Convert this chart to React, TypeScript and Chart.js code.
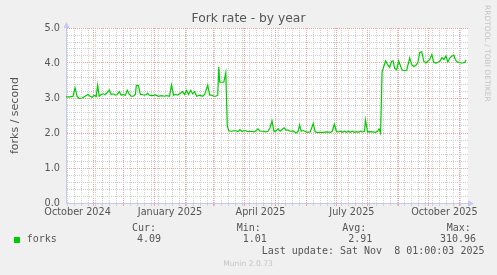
import { useEffect, useRef } from 'react';
import { Chart, registerables } from 'chart.js';

Chart.register(...registerables);

const chartTitle = 'Fork rate - by year';
const yAxisTitle = 'forks / second';
const seriesName = 'forks';
const sideText = 'RRDTOOL / TOBI OETIKER';
const statsHeaders = ['Cur:', 'Min:', 'Avg:', 'Max:'];
const statsValues = ['4.09', '1.01', '2.91', '310.96'];
const lastUpdate = 'Last update: Sat Nov  8 01:00:03 2025';
const footerText = 'Munin 2.0.73';

// days since 2024-10-05 (left edge of the plot)
const dayOffsets = [
  0, 4, 7, 9, 11, 13, 16, 19, 22, 24, 26, 28, 30, 31.5, 33, 35, 37, 39, 41, 43, 45, 47, 49, 51, 53, 55, 57, 59, 61, 63,
  65, 67, 69, 70, 72, 74, 76, 78, 80, 81, 83, 86, 89, 92, 95, 98, 100, 103, 105, 107, 109, 111, 113, 116, 118, 120, 122,
  124, 126, 128, 130, 133, 136, 138, 141, 143, 145, 147, 149, 151, 152, 153, 157, 159, 160.5, 162, 165, 168, 171, 173,
  175, 178, 181, 184, 187, 189, 191, 193, 196, 199, 201, 203, 205, 207, 209, 211, 213, 215, 217, 219, 221, 223, 226, 229,
  231, 232.5, 234, 236, 238, 240, 243, 246, 248, 250, 253, 256, 259, 263, 265, 267, 269, 271, 273, 275, 277, 279, 281,
  283, 285, 287, 289, 291, 293, 295, 297, 298, 300, 302, 305, 308, 310, 311.5, 313, 314.5, 318, 320, 322, 324, 325.5,
  327, 329, 331, 333, 334.5, 337, 339, 342, 344, 346, 348, 350, 352, 354, 356, 358, 360, 362, 364, 366, 368, 370, 372,
  374, 376, 378, 380, 382, 384, 386, 387, 389, 391, 393, 395, 397, 398,
];
const forksPerSecond = [
  3.03, 3.03, 3.05, 3.29, 3.05, 2.98, 3.0, 3.05, 3.1, 3.05, 3.02, 3.08, 3.04, 3.37, 3.05, 3.1, 3.12, 3.1, 3.15, 3.23,
  3.1, 3.12, 3.08, 3.1, 3.18, 3.08, 3.1, 3.08, 3.22, 3.1, 3.05, 3.05, 3.1, 3.36, 3.36, 3.1, 3.1, 3.08, 3.1, 3.14, 3.08,
  3.07, 3.09, 3.05, 3.07, 3.05, 3.07, 3.05, 3.37, 3.08, 3.1, 3.08, 3.12, 3.18, 3.1, 3.22, 3.1, 3.22, 3.12, 3.18, 3.05,
  3.08, 3.05, 3.1, 3.37, 3.08, 3.08, 3.05, 3.05, 3.08, 3.89, 3.45, 3.45, 3.72, 2.2, 2.06, 2.05, 2.07, 2.04, 2.1, 2.05,
  2.07, 2.04, 2.05, 2.03, 2.06, 2.12, 2.05, 2.05, 2.03, 2.05, 2.15, 2.34, 2.04, 2.06, 2.12, 2.05, 2.1, 2.15, 2.08, 2.08,
  2.05, 2.06, 2.0, 2.05, 2.23, 2.05, 2.07, 2.05, 2.02, 2.03, 2.27, 2.03, 2.02, 2.02, 2.02, 2.03, 2.02, 2.05, 2.25, 2.05,
  2.03, 2.05, 2.02, 2.05, 2.02, 2.05, 2.02, 2.05, 2.02, 2.04, 2.02, 2.05, 2.03, 2.05, 2.37, 2.03, 2.04, 2.03, 2.02, 2.05,
  2.12, 2.0, 3.74, 4.06, 3.95, 3.88, 4.05, 4.06, 3.85, 3.8, 4.06, 3.9, 3.8, 3.78, 3.8, 4.14, 3.95, 3.9, 3.93, 4.0, 4.3,
  4.32, 4.05, 4.0, 4.05, 4.1, 4.24, 4.02, 4.0, 4.02, 4.05, 4.15, 4.1, 4.2, 4.03, 4.15, 4.2, 4.22, 4.12, 4.03, 4.02, 4.0,
  4.0, 4.02, 4.09,
];

const xMaxDay = 400;
const monthStartDays = [27, 57, 88, 119, 147, 178, 208, 239, 269, 300, 331, 361, 392];
const monthLabelDays = [11.5, 103.5, 193.5, 284.5, 376.5];
const monthLabels = ['October 2024', 'January 2025', 'April 2025', 'July 2025', 'October 2025'];
const firstSundayDay = 1;
const yMajorTicks = [0, 1, 2, 3, 4, 5];
const yMinorStep = 0.2;

const MAJOR = '#f2a0a0';
const MINOR = '#d0d0d0';
const AXIS = '#c4c8f4';
const TEXT = '#555555';

export default function App() {
  const ref = useRef<HTMLCanvasElement | null>(null);
  useEffect(() => {
    const canvas = ref.current;
    if (!canvas) return;

    const kind = new Map<number, string>();
    for (let d = firstSundayDay; d < xMaxDay; d += 7) kind.set(d, 'week');
    monthStartDays.forEach((d) => kind.set(d, 'month'));
    monthLabelDays.forEach((d) => kind.set(d, 'label'));
    const xTicks = Array.from(kind.keys()).sort((a, b) => a - b);
    const lineColorFor = (v: number) => {
      const k = kind.get(v);
      if (k === 'month') return MAJOR;
      if (k === 'week') return MINOR;
      return 'rgba(255,255,255,0)';
    };
    const yTicks: number[] = [];
    for (let i = 0; i <= 25; i++) yTicks.push(Math.round(i * yMinorStep * 10) / 10);

    const decor = {
      id: 'decor',
      beforeDraw(chart: any) {
        const { ctx, chartArea: a } = chart;
        ctx.save();
        ctx.fillStyle = '#f0f0f0';
        ctx.fillRect(0, 0, chart.width, chart.height);
        ctx.fillStyle = '#ffffff';
        ctx.fillRect(a.left, a.top, a.right - a.left, a.bottom - a.top);
        ctx.restore();
      },
      afterDraw(chart: any) {
        const { ctx, chartArea: a } = chart;
        ctx.save();
        ctx.fillStyle = AXIS;
        ctx.beginPath();
        ctx.moveTo(a.left + 0.5, a.top - 6);
        ctx.lineTo(a.left - 2.5, a.top);
        ctx.lineTo(a.left + 3.5, a.top);
        ctx.fill();
        ctx.beginPath();
        ctx.moveTo(a.right + 6, a.bottom + 0.5);
        ctx.lineTo(a.right, a.bottom - 2.5);
        ctx.lineTo(a.right, a.bottom + 3.5);
        ctx.fill();
        ctx.fillStyle = TEXT;
        ctx.font = '12.3px "DejaVu Sans"';
        ctx.textAlign = 'center';
        ctx.textBaseline = 'middle';
        ctx.fillText(chartTitle, 248.5, 19);
        ctx.save();
        ctx.translate(487, 5);
        ctx.rotate(Math.PI / 2);
        ctx.font = '7.5px "DejaVu Sans"';
        ctx.fillStyle = '#c4c4c4';
        ctx.textAlign = 'left';
        ctx.textBaseline = 'middle';
        ctx.fillText(sideText, 0, 0);
        ctx.restore();
        ctx.font = '10px "DejaVu Sans Mono"';
        ctx.fillStyle = TEXT;
        ctx.textAlign = 'left';
        ctx.textBaseline = 'middle';
        const hx = [132, 236.7, 342.3, 446.7];
        const vx = [137, 242.7, 348.3, 440];
        statsHeaders.forEach((h, i) => ctx.fillText(h, hx[i], 228.5));
        statsValues.forEach((v, i) => ctx.fillText(v, vx[i], 239.5));
        ctx.fillText(seriesName, 26.7, 239.5);
        ctx.fillText(lastUpdate, 261.7, 251.5);
        ctx.fillStyle = '#00cc00';
        ctx.fillRect(14, 237, 6, 6);
        ctx.font = '7.6px "DejaVu Sans"';
        ctx.fillStyle = '#c4c4c4';
        ctx.textAlign = 'center';
        ctx.fillText(footerText, 248, 264.5);
        ctx.restore();
      },
    };

    const chart = new Chart(canvas, {
      type: 'line',
      data: {
        datasets: [
          {
            label: seriesName,
            data: dayOffsets.map((d, i) => ({ x: d, y: forksPerSecond[i] })),
            borderColor: '#00cc00',
            borderWidth: 1.2,
            pointRadius: 0,
            tension: 0,
            fill: false,
          },
        ],
      },
      options: {
        animation: false,
        responsive: false,
        devicePixelRatio: 1,
        layout: { padding: { left: 0, top: 28, right: 29, bottom: 52 } },
        plugins: { legend: { display: false }, title: { display: false }, tooltip: { enabled: false } },
        scales: {
          x: {
            type: 'linear',
            min: 0,
            max: xMaxDay,
            afterFit: (s: any) => {
              s.height = 20;
            },
            afterBuildTicks: (s: any) => {
              s.ticks = xTicks.map((v) => ({ value: v }));
            },
            ticks: {
              autoSkip: false,
              maxRotation: 0,
              padding: 1,
              color: TEXT,
              font: { family: 'DejaVu Sans', size: 9.7 },
              callback: (v: any) => {
                const idx = monthLabelDays.indexOf(Number(v));
                return idx >= 0 ? monthLabels[idx] : '';
              },
            },
            grid: {
              color: (c: any) => lineColorFor(c.tick?.value),
              tickColor: (c: any) => lineColorFor(c.tick?.value),
              tickLength: 3,
              tickBorderDash: [],
              lineWidth: 1,
            },
            border: { color: AXIS, width: 1, dash: [1, 1] },
          },
          y: {
            type: 'linear',
            min: 0,
            max: 5,
            afterFit: (s: any) => {
              s.width = 66;
            },
            afterBuildTicks: (s: any) => {
              s.ticks = yTicks.map((v) => ({ value: v }));
            },
            ticks: {
              autoSkip: false,
              padding: 6,
              color: TEXT,
              font: { family: 'DejaVu Sans', size: 9.7 },
              callback: (v: any) => (yMajorTicks.includes(Number(v)) ? Number(v).toFixed(1) : ''),
            },
            grid: {
              drawTicks: false,
              color: (c: any) => (yMajorTicks.includes(c.tick?.value) ? MAJOR : MINOR),
              lineWidth: 1,
            },
            border: { color: AXIS, width: 1, dash: [1, 1] },
            title: {
              display: true,
              text: yAxisTitle,
              color: TEXT,
              font: { family: 'DejaVu Sans', size: 11 },
              padding: { top: 9, bottom: 0 },
            },
          },
        },
      },
      plugins: [decor],
    });
    return () => chart.destroy();
  }, []);

  return (
    <div style={{ position: 'absolute', left: 0, top: 0, width: 497, height: 275 }}>
      <canvas ref={ref} width={497} height={275} style={{ display: 'block', width: 497, height: 275 }} />
    </div>
  );
}
